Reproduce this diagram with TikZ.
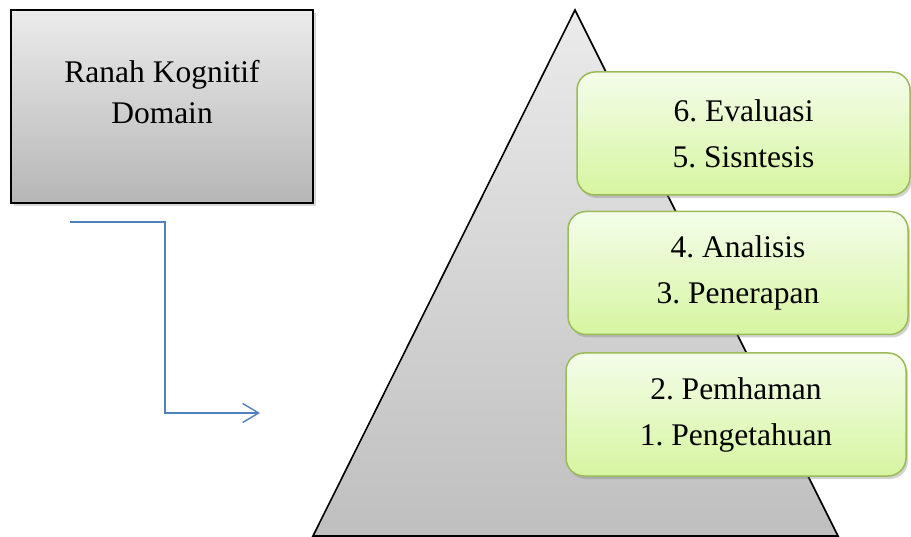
\documentclass[tikz,border=0pt]{standalone}
\usepackage{fontspec}
\setmainfont{Liberation Serif}
\usepackage{tikz}
\usetikzlibrary{arrows.meta,shadows}
\frenchspacing

\definecolor{boxgreen}{HTML}{9BBB59}
\definecolor{greentop}{HTML}{F4FDEA}
\definecolor{greenbot}{HTML}{D6F5A0}
\definecolor{graytop}{HTML}{EBEBEB}
\definecolor{graybot}{HTML}{B6B6B6}
\definecolor{pyrbot}{HTML}{BFBFBF}
\definecolor{arrowblue}{HTML}{4F81BD}

\tikzset{
  levelbox/.style={draw=boxgreen, line width=1.5pt, rounded corners=18pt,
    top color=greentop, bottom color=greenbot, align=center,
    minimum height=123pt, inner sep=0pt,
    font=\fontsize{31.5}{46}\selectfont,
    drop shadow={shadow xshift=2pt, shadow yshift=-3pt, opacity=0.35}},
  domainbox/.style={draw=black, line width=2pt, top color=graytop, bottom color=graybot,
    minimum width=302pt, minimum height=193pt, inner sep=0pt,
    drop shadow={shadow xshift=3pt, shadow yshift=-3pt, opacity=0.3}},
}

\begin{document}
\begin{tikzpicture}[x=1pt,y=-1pt]
\useasboundingbox (0,0) rectangle (911,537);

% kotak kiri
\node[domainbox] (domain) at (162,106.5) {};
\node[align=center, inner sep=0pt, font=\fontsize{31.5}{41}\selectfont] (domaintext) at (162,92) {Ranah Kognitif\\Domain};

% segitiga
\coordinate (apex) at (575,10);
\coordinate (baseL) at (313,536);
\coordinate (baseR) at (838,536);
\path[draw=black, line width=1.6pt, line join=miter, top color=graytop, bottom color=pyrbot] (apex) -- (baseR) -- (baseL) -- cycle;

% tingkatan
\node[levelbox, minimum width=333pt] (lvl3) at (743.5,133.5) {6. Evaluasi\\5. Sisntesis};
\node[levelbox, minimum width=340pt] (lvl2) at (738,273) {4. Analisis\\3. Penerapan};
\node[levelbox, minimum width=340pt] (lvl1) at (736,414.5) {2. Pemhaman\\1. Pengetahuan};

% panah
\coordinate (arrowstart) at (70,222);
\coordinate (arrowbend) at (165,317);
\coordinate (arrowend) at (260,413);
\draw[arrowblue, line width=1.4pt, -{Straight Barb[length=16pt,width=19pt]}] (arrowstart) -| (arrowbend) |- (arrowend);
\end{tikzpicture}
\end{document}
